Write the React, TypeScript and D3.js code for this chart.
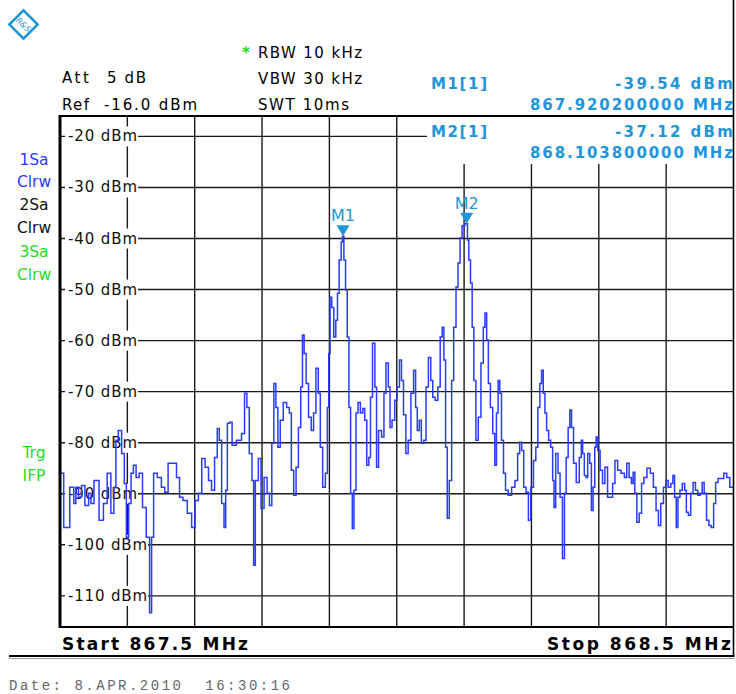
import React from 'react';
import * as d3 from 'd3';

// sweep settings
const startMHz = 867.5;
const stopMHz = 868.5;
const refLevel = -16;
const bottomLevel = -116;
const levelTicks = [-20, -30, -40, -50, -60, -70, -80, -90, -100, -110];
const freqDivisions = [1, 2, 3, 4, 5, 6, 7, 8, 9]; // 100 kHz / div

const attRef = [['Att', '5 dB'], ['Ref', '-16.0 dBm']];
const bwSettings = ['RBW 10 kHz', 'VBW 30 kHz', 'SWT 10ms'];

const traceLegend = [
  { text: '1Sa', color: '#2a3cff' },
  { text: 'Clrw', color: '#2a3cff' },
  { text: '2Sa', color: '#111' },
  { text: 'Clrw', color: '#111' },
  { text: '3Sa', color: '#1edc1e' },
  { text: 'Clrw', color: '#1edc1e' },
];
const triggerLegend = ['Trg', 'IFP'];

const markers = [
  { name: 'M1', info: 'M1[1]', freq: 867.9202, level: -39.54, freqText: '867.920200000 MHz', levelText: '-39.54 dBm' },
  { name: 'M2', info: 'M2[1]', freq: 868.1038, level: -37.12, freqText: '868.103800000 MHz', levelText: '-37.12 dBm' },
];

// trace 1: [offset from start in kHz, level in dBm]
const trace: [number, number][] = [
  [0, -85.4], [1, -86.0], [10, -96.6], [19, -88.7], [22, -91.9], [25, -88.7], [30, -90.7], [34, -88.4], [40, -92.3],
  [45, -89.9], [47, -91.9], [54, -87.4], [62, -95.2], [67, -91.9], [73, -86.0], [78, -93.8], [82, -88.7],
  [84, -79.5], [89, -77.6], [94, -82.1], [97, -88.0], [100, -98.5], [104, -91.9], [107, -86.0], [111, -84.4],
  [115, -86.8], [120, -86.0], [125, -92.7], [131, -98.5], [135, -113.3], [137, -98.5], [141, -86.0],
  [148, -86.8], [153, -88.7], [158, -89.7], [163, -84.0], [171, -84.0], [175, -86.8], [180, -90.7],
  [185, -91.3], [193, -93.8], [198, -96.6], [203, -91.3], [208, -89.9], [213, -83.1], [218, -84.8],
  [223, -87.4], [227, -89.3], [232, -82.9], [235, -77.2], [238, -79.5], [242, -91.9], [245, -96.6],
  [247, -89.3], [250, -76.2], [254, -76.0], [257, -80.5],
  [267, -79.5], [272, -78.2], [276, -70.3], [279, -73.1], [283, -82.1], [287, -87.4], [288, -104.0],
  [292, -87.4], [297, -83.1], [300, -92.9], [306, -86.8], [309, -89.9], [313, -92.3], [316, -80.1],
  [319, -68.4], [322, -73.1], [325, -80.9], [329, -75.6], [334, -72.1], [339, -73.1], [342, -74.2],
  [345, -85.4], [349, -90.3], [352, -84.8], [356, -77.0], [359, -69.1], [361, -58.9], [364, -62.5],
  [367, -68.4], [371, -75.0], [375, -77.6], [378, -74.2], [382, -65.4], [385, -70.3], [388, -80.9],
  [392, -88.7], [396, -86.0], [398, -73.1], [400, -62.5], [402, -51.5], [405, -53.5], [408, -59.3],
  [411, -56.0], [413, -50.7], [416, -44.2], [419, -40.7], [420, -39.54], [423, -44.2], [425, -50.1],
  [428, -59.3], [430, -73.1], [433, -89.9], [435, -96.8], [438, -89.3], [441, -74.2], [444, -72.1],
  [448, -74.2], [451, -73.3], [454, -75.6], [457, -84.4], [460, -82.9], [462, -71.1], [466, -60.5],
  [469, -69.1], [471, -84.8], [475, -77.6], [480, -78.9], [482, -70.3], [486, -64.4], [489, -69.1],
  [491, -77.0], [495, -75.6], [499, -71.7], [502, -69.1], [506, -63.8], [508, -67.8], [512, -74.5],
  [515, -82.1], [519, -79.5],
  [523, -70.3], [527, -65.8], [529, -73.1], [532, -77.6], [535, -75.6], [538, -80.1], [542, -79.5],
  [545, -69.1], [549, -63.3], [552, -67.8], [555, -71.1], [559, -71.7], [563, -69.1], [566, -59.3],
  [569, -57.4], [571, -63.8], [574, -80.9], [576, -94.8], [580, -87.4], [583, -67.8], [586, -57.4],
  [590, -49.5], [592, -44.8], [596, -39.9], [598, -37.5], [604, -37.12], [606, -40.3], [608, -44.2],
  [611, -48.7], [613, -57.4], [616, -67.8], [619, -79.5], [623, -75.0], [627, -64.4], [630, -57.4],
  [632, -54.6], [635, -59.9], [637, -68.4], [641, -73.1], [644, -78.2], [647, -84.4], [649, -74.2],
  [652, -67.8], [654, -70.3], [657, -79.5], [660, -86.0], [663, -89.3], [668, -90.3], [673, -88.7],
  [678, -87.4], [681, -82.1], [684, -79.9], [687, -81.5], [690, -88.7], [694, -89.7], [697, -95.2],
  [701, -88.7], [705, -83.5], [708, -80.9], [711, -73.1], [714, -68.4], [716, -65.8], [719, -70.3],
  [721, -74.2], [724, -77.6], [727, -79.5], [730, -80.9], [733, -87.4], [734, -92.7], [738, -82.1],
  [741, -86.0], [744, -90.7], [748, -102.7], [750, -89.9],
  [753, -82.9], [756, -77.0], [758, -73.6], [761, -77.0], [764, -84.0], [769, -87.8], [773, -82.9],
  [775, -79.5], [777, -82.1], [780, -86.4], [782, -86.8], [785, -82.1], [788, -84.0], [790, -93.3],
  [793, -88.7], [795, -80.9], [797, -78.9], [800, -81.5], [804, -85.4], [807, -88.0], [811, -84.8],
  [815, -90.7], [819, -90.7], [822, -88.0], [826, -83.5], [830, -85.4], [836, -86.0], [840, -86.8],
  [843, -84.0], [847, -86.8], [850, -88.0], [852, -85.8], [855, -89.9], [858, -95.6], [862, -93.8],
  [865, -88.0], [869, -86.8], [874, -85.0], [879, -86.0], [883, -88.7], [887, -93.3], [890, -96.2],
  [894, -91.9], [898, -88.7], [901, -87.4], [905, -88.7], [909, -88.0], [911, -86.4], [914, -90.7],
  [916, -96.6], [919, -90.7], [922, -89.3], [926, -88.0], [929, -89.3], [931, -93.6], [935, -94.2],
  [938, -89.9], [942, -87.8], [945, -89.3], [949, -90.3], [952, -89.9], [955, -87.8], [958, -89.9],
  [962, -95.2], [965, -96.2], [969, -96.6], [972, -91.9], [975, -87.8], [979, -87.0], [983, -87.0],
  [988, -86.0], [992, -86.8], [997, -88.7], [1000, -88.7],
];

const dateText = 'Date: 8.APR.2010  16:30:16';

const W = 736, H = 694;
const left = 60, right = 733.5, top = 116, bottom = 627;
const FONT = '"DejaVu Sans", Verdana, sans-serif';
const markerBlue = '#1e96dc';
const traceBlue = '#2a3cff';
const green = '#1edc1e';

export default function App() {
  const x = d3.scaleLinear().domain([startMHz, stopMHz]).range([left, right]);
  const y = d3.scaleLinear().domain([refLevel, bottomLevel]).range([top, bottom - 0.5]);

  // sampled trace, drawn as steps like the analyser display
  const line = d3.line<[number, number]>()
    .x(d => x(startMHz + d[0] / 1000))
    .y(d => y(d[1]))
    .curve(d3.curveStep);

  const gridColor = '#1a1a1a';

  return (
    <svg width={W} height={H} style={{ position: 'absolute', left: 0, top: 0, display: 'block', background: '#fff' }}
      fontFamily={FONT}>
      {/* logo */}
      <g transform="translate(23.5,24.5)">
        <rect x={-10} y={-10} width={20} height={20} transform="rotate(45)" fill="#fff" stroke={markerBlue} strokeWidth={2.6} />
        <text transform="rotate(45)" textAnchor="middle" y={3} fontSize={8} fill={markerBlue} fontStyle="italic">R&amp;S</text>
      </g>

      {/* header settings */}
      {attRef.map((d, i) => (
        <g key={d[0]} fontSize={15} fill="#000">
          <text x={62} y={83 + i * 27} textLength={27}>{d[0]}</text>
          <text x={i === 0 ? 107 : 104} y={83 + i * 27} textLength={i === 0 ? 39 : 93}>{d[1]}</text>
        </g>
      ))}
      <text x={242} y={58} fontSize={15} fontWeight="bold" fill={green}>*</text>
      {bwSettings.map((s, i) => (
        <text key={s} x={258} y={58 + i * 26} fontSize={15} textLength={i === 2 ? 91 : 104}>{s}</text>
      ))}

      {/* grid */}
      {levelTicks.map(v => (
        <line key={v} x1={left} x2={right} y1={y(v)} y2={y(v)} stroke={gridColor} strokeWidth={1.4} />
      ))}
      {freqDivisions.map(k => (
        <line key={k} x1={x(startMHz + k / 10)} x2={x(startMHz + k / 10)} y1={top} y2={bottom}
          stroke={gridColor} strokeWidth={1.4} />
      ))}

      {/* level labels */}
      {levelTicks.map(v => {
        const w = v <= -100 ? 79 : 69;
        return (
          <g key={v}>
            <rect x={65} y={y(v) - 10} width={w + 4} height={20} fill="#fff" />
            <text x={68} y={y(v) + 5} fontSize={15} textLength={w} fill="#111">{`${v} dBm`}</text>
          </g>
        );
      })}

      {/* marker info box */}
      <rect x={427} y={top + 1} width={right - 427} height={47} fill="#fff" />
      {markers.map((m, i) => {
        const by = 89 + i * 47.5;
        return (
          <g key={m.name} fill={markerBlue} fontWeight="bold" fontSize={15}>
            <text x={431} y={by} textLength={56}>{m.info}</text>
            <text x={733} y={by} textAnchor="end" textLength={118}>{m.levelText}</text>
            <text x={733} y={by + 21} textAnchor="end" textLength={203}>{m.freqText}</text>
          </g>
        );
      })}

      {/* trace */}
      <path d={line(trace) || ''} fill="none" stroke={traceBlue} strokeWidth={1.5} />

      {/* markers */}
      {markers.map(m => {
        const mx = x(m.freq), my = y(m.level);
        return (
          <g key={m.name} fill={markerBlue}>
            <path d={`M${mx - 6.5},${my - 11}L${mx + 6.5},${my - 11}L${mx},${my}Z`} />
            <text x={mx} y={my - 15} textAnchor="middle" fontSize={16}>{m.name}</text>
          </g>
        );
      })}

      {/* frame */}
      <line x1={left} x2={left} y1={top - 1} y2={bottom + 1} stroke="#000" strokeWidth={3} />
      <line x1={left} x2={right} y1={top} y2={top} stroke="#000" strokeWidth={2} />
      <line x1={left} x2={right} y1={bottom} y2={bottom} stroke="#000" strokeWidth={2} />
      <line x1={right} x2={right} y1={0} y2={656} stroke="#000" strokeWidth={1.6} />
      <line x1={9} x2={right + 1} y1={656} y2={656} stroke="#000" strokeWidth={2} />
      <line x1={9} x2={right + 1} y1={658.5} y2={658.5} stroke="#999" strokeWidth={1} />

      {/* left legends */}
      {traceLegend.map((d, i) => (
        <text key={i} x={34} y={[165, 187, 210, 233, 257, 280][i]} textAnchor="middle" fontSize={15.5} fill={d.color}>{d.text}</text>
      ))}
      {triggerLegend.map((t, i) => (
        <text key={t} x={34} y={458 + i * 23} textAnchor="middle" fontSize={15.5} fill={green}>{t}</text>
      ))}

      {/* span */}
      <text x={62} y={650} fontSize={17} fontWeight="bold" textLength={186}>{`Start ${startMHz} MHz`}</text>
      <text x={731} y={650} fontSize={17} fontWeight="bold" textAnchor="end" textLength={184}>{`Stop ${stopMHz} MHz`}</text>

      <text x={9} y={690} fontSize={14} fontFamily='"Liberation Mono", "DejaVu Sans Mono", monospace' fill="#666"
        textLength={281} xmlSpace="preserve">{dateText}</text>
    </svg>
  );
}
